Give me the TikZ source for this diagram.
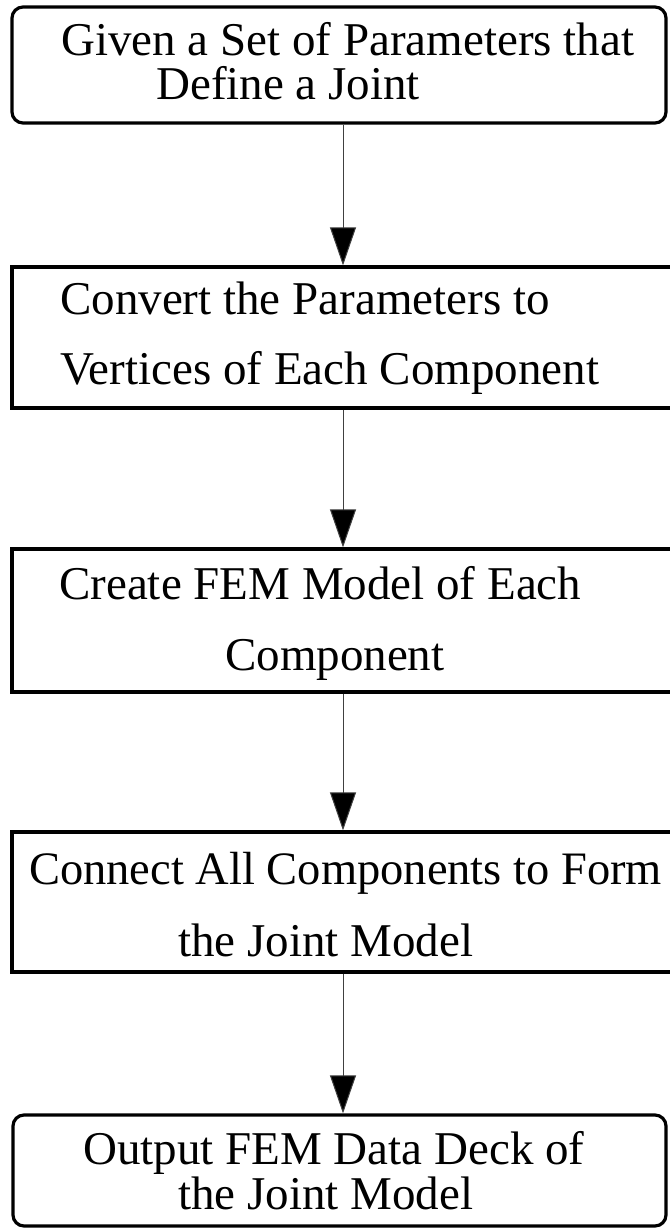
\documentclass[tikz,border=0pt]{standalone}
\usepackage{fontspec}
\setmainfont{Liberation Serif}
\usetikzlibrary{arrows.meta}
\begin{document}
\begin{tikzpicture}[x=1pt,y=1pt,
  box/.style={draw=black, line width=3.2pt, inner sep=0pt},
  roundbox/.style={box, rounded corners=11pt},
  label/.style={anchor=base west, inner sep=0pt, font=\fontsize{47}{50}\selectfont},
  flow/.style={draw=black!75, line width=1pt,
    -{Triangle[length=38pt,width=26pt,fill=black]}}
]
\useasboundingbox (0,0) rectangle (669,-1230);
\coordinate (ax) at (343,0);

% process boxes, top to bottom
\node[roundbox, minimum width=654pt, minimum height=116pt] (b1) at (339,-65) {};
\node[box, minimum width=680pt, minimum height=141pt] (b2) at (352,-337.5) {};
\node[box, minimum width=680pt, minimum height=143pt] (b3) at (352,-620.5) {};
\node[box, minimum width=680pt, minimum height=140pt] (b4) at (352,-902) {};
\node[roundbox, minimum width=653pt, minimum height=111pt] (b5) at (339.5,-1170.5) {};

% box texts
\node[label] (t1a) at (61,-56) {Given a Set of Parameters that};
\node[label] (t1b) at (156,-100) {Define a Joint};
\node[label] (t2a) at (60,-314) {Convert the Parameters to};
\node[label] (t2b) at (60,-384) {Vertices of Each Component};
\node[label] (t3a) at (59,-599) {Create FEM Model of Each};
\node[label] (t3b) at (225,-670) {Component};
\node[label, font=\fontsize{46.5}{50}\selectfont] (t4a) at (29,-884) {Connect All Components to Form};
\node[label] (t4b) at (178,-956) {the Joint Model};
\node[label] (t5a) at (83,-1164) {Output FEM Data Deck of};
\node[label] (t5b) at (178,-1209) {the Joint Model};

% connectors
\draw[flow] (b1.south -| ax) -- (b2.north -| ax);
\draw[flow] (b2.south -| ax) -- (b3.north -| ax);
\draw[flow] (b3.south -| ax) -- (b4.north -| ax);
\draw[flow] (b4.south -| ax) -- (b5.north -| ax);
\end{tikzpicture}
\end{document}
